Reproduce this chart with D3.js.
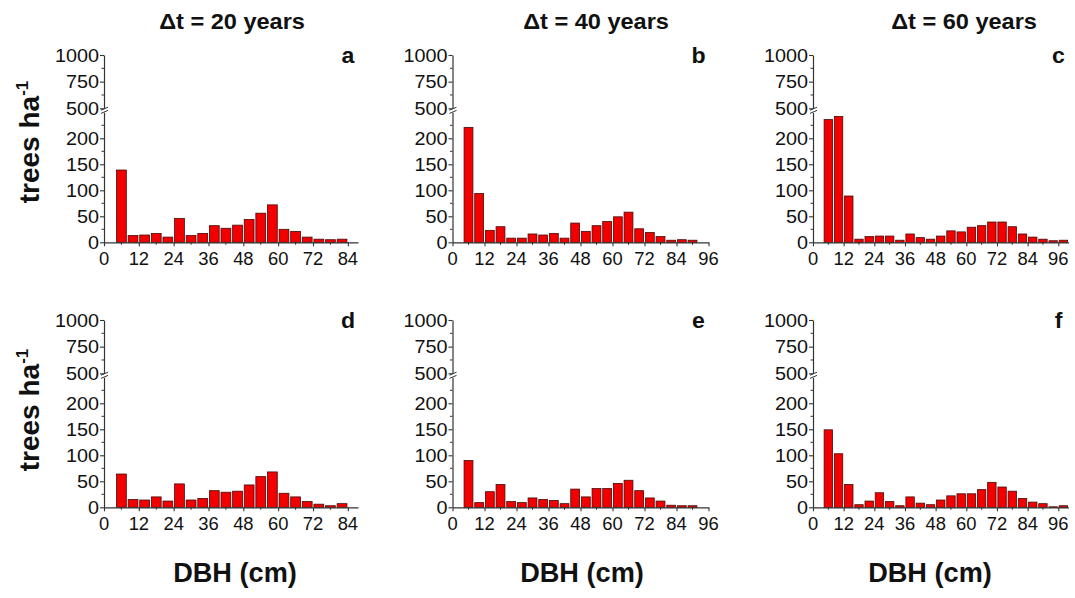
<!DOCTYPE html>
<html><head><meta charset="utf-8">
<script src="https://cdn.jsdelivr.net/npm/d3@7"></script>
<style>
html,body{margin:0;padding:0;background:#fff;}
svg{display:block;font-family:"Liberation Sans",Arial,sans-serif;}
</style></head>
<body><svg id="chart" width="1075" height="598"></svg>
<script>
// ---- data ----
const panelLetters = ["a","b","c","d","e","f"];
const columnTitles = ["20","40","60"];
const binStart = 4, binWidth = 4;
const valuesA = [139, 13, 14, 17, 10, 46, 13, 17, 32, 27, 33, 44, 56, 72, 25, 21, 10, 6, 5, 6];
const valuesB = [221, 94, 23, 30, 8, 8, 16, 14, 17, 8, 37, 21, 32, 40, 49, 58, 26, 19, 11, 4, 5, 4];
const valuesC = [236, 242, 89, 6, 11, 12, 12, 4, 16, 9, 6, 12, 22, 20, 29, 32, 39, 39, 30, 16, 10, 6, 3, 4];
const valuesD = [64, 15, 14, 20, 12, 45, 14, 17, 32, 29, 31, 43, 59, 68, 27, 20, 11, 6, 3, 7];
const valuesE = [90, 9, 30, 44, 11, 9, 18, 15, 13, 7, 35, 20, 36, 36, 46, 52, 32, 18, 12, 4, 3, 3];
const valuesF = [149, 103, 44, 5, 12, 28, 11, 3, 20, 8, 5, 14, 22, 26, 26, 34, 48, 39, 31, 17, 10, 7, 1, 3];
const xMax = [87.5, 96, 100];
const xTickVals = [[0,12,24,36,48,60,72,84],[0,12,24,36,48,60,72,84,96],[0,12,24,36,48,60,72,84,96]];
const yLowTicks = [0, 50, 100, 150, 200];
const yHighTicks = [500, 750, 1000];
const yLowMinor = [25, 75, 125, 175, 225];
const yHighMinor = [625, 875];
const panelValues = [valuesA, valuesB, valuesC, valuesD, valuesE, valuesF];

// ---- layout ----
const colX = [104, 452.5, 813];
const colW = [254, 256, 255.5];
const rowZero = [242.3, 507.3];
const lowH = 130, gapTop = 134, highTop = 187.3;
const svg = d3.select("#chart");
const axisColor = "#333";

function stretchedText(g, x, y, txt, opts) {
  return g.append("text")
    .attr("transform", `translate(${x},${y}) scale(${opts.sx||1},1)`)
    .attr("text-anchor", opts.anchor || "middle")
    .attr("font-size", opts.size)
    .attr("font-weight", opts.weight || "normal")
    .attr("fill", "#111")
    .text(txt);
}

panelValues.forEach((vals, i) => {
  const col = i % 3, row = Math.floor(i / 3);
  const x0 = colX[col], zero = rowZero[row];
  const g = svg.append("g");
  const x = d3.scaleLinear().domain([0, xMax[col]]).range([x0, x0 + colW[col]]);
  const yLow = d3.scaleLinear().domain([0, 250]).range([zero, zero - lowH]);
  const yHigh = d3.scaleLinear().domain([500, 1000]).range([zero - gapTop, zero - highTop]);

  // bars
  g.selectAll("rect.bar").data(vals).enter().append("rect")
    .attr("class", "bar")
    .attr("x", (d, k) => x(binStart + k * binWidth) + 0.9)
    .attr("width", x(binWidth) - x(0) - 1.8)
    .attr("y", d => yLow(Math.min(d, 250)))
    .attr("height", d => zero - yLow(Math.min(d, 250)))
    .attr("fill", "#f20000")
    .attr("stroke", "#4a0a0a")
    .attr("stroke-width", 0.8);

  // x axis
  const xAxis = d3.axisBottom(x).tickValues(xTickVals[col]).tickSize(4).tickSizeOuter(0).tickFormat(d3.format("d"));
  const xa = g.append("g").attr("transform", `translate(0,${zero})`).call(xAxis);
  xa.select(".domain").attr("stroke", axisColor).attr("stroke-width", 1.2);
  xa.selectAll(".tick line").attr("stroke", axisColor).attr("stroke-width", 1.1);
  xa.selectAll(".tick text").remove();
  xTickVals[col].forEach(v => {
    stretchedText(g, x(v), zero + 23, String(v), {size: 17.5, sx: 1.05});
  });
  // minor x ticks
  const minorX = d3.range(6, xMax[col], 12);
  g.selectAll("line.mx").data(minorX).enter().append("line")
    .attr("x1", d => x(d)).attr("x2", d => x(d))
    .attr("y1", zero).attr("y2", zero + 2.5)
    .attr("stroke", axisColor).attr("stroke-width", 1);

  // y axis lower segment
  const yaL = d3.axisLeft(yLow).tickValues(yLowTicks).tickSize(4).tickSizeOuter(0);
  const gl = g.append("g").attr("transform", `translate(${x0},0)`).call(yaL);
  gl.select(".domain").attr("stroke", axisColor).attr("stroke-width", 1.2);
  gl.selectAll(".tick line").attr("stroke", axisColor).attr("stroke-width", 1.1);
  gl.selectAll(".tick text").remove();
  // y axis upper segment
  const yaH = d3.axisLeft(yHigh).tickValues(yHighTicks).tickSize(4).tickSizeOuter(0);
  const gh = g.append("g").attr("transform", `translate(${x0},0)`).call(yaH);
  gh.select(".domain").attr("stroke", axisColor).attr("stroke-width", 1.2);
  gh.selectAll(".tick line").attr("stroke", axisColor).attr("stroke-width", 1.1);
  gh.selectAll(".tick text").remove();
  yLowTicks.forEach(v => stretchedText(g, x0 - 5, yLow(v) + 6.5, String(v), {size: 18, anchor: "end", sx: 1.1}));
  yHighTicks.forEach(v => stretchedText(g, x0 - 5, yHigh(v) + 6.5, String(v), {size: 18, anchor: "end", sx: 1.1}));
  // minor y ticks
  g.selectAll("line.myl").data(yLowMinor).enter().append("line")
    .attr("x1", x0 - 2.5).attr("x2", x0).attr("y1", d => yLow(d)).attr("y2", d => yLow(d))
    .attr("stroke", axisColor).attr("stroke-width", 1);
  g.selectAll("line.myh").data(yHighMinor).enter().append("line")
    .attr("x1", x0 - 2.5).attr("x2", x0).attr("y1", d => yHigh(d)).attr("y2", d => yHigh(d))
    .attr("stroke", axisColor).attr("stroke-width", 1);
  // break marks
  const by = (yLow(250) + yHigh(500)) / 2;
  [-1.6, 1.6].forEach(o => {
    g.append("line").attr("x1", x0 - 3).attr("x2", x0 + 4)
      .attr("y1", by + o + 1.5).attr("y2", by + o - 1.5)
      .attr("stroke", axisColor).attr("stroke-width", 1);
  });
  // panel letter
  stretchedText(g, x0 + colW[col] - 10, zero - 179, panelLetters[i], {size: 22, weight: "bold", sx: 1.05});
});

// column titles
const titleX = [232, 596, 964];
columnTitles.forEach((t, c) => {
  stretchedText(svg, titleX[c], 29, "\u0394t = " + t + " years", {size: 22, weight: "bold", sx: 1.07});
});
// x axis titles
const dbhX = [235, 582, 930];
dbhX.forEach(xx => stretchedText(svg, xx, 582, "DBH (cm)", {size: 28, weight: "bold", sx: 0.97}));
// y axis titles
[142, 410].forEach(cy => {
  const t = svg.append("text")
    .attr("transform", `translate(39,${cy}) rotate(-90)`)
    .attr("text-anchor", "middle")
    .attr("font-size", 28).attr("font-weight", "bold").attr("fill", "#111");
  t.append("tspan").text("trees ha");
  t.append("tspan").attr("font-size", 17).attr("dy", -11).text("-1");
});
</script></body></html>
